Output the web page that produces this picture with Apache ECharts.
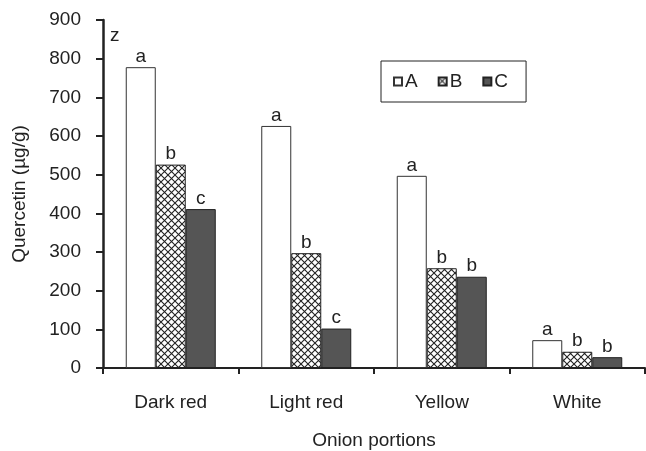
<!DOCTYPE html>
<html>
<head>
<meta charset="utf-8">
<script src="https://cdn.jsdelivr.net/npm/echarts@6/dist/echarts.min.js"></script>
<style>
  html, body { margin: 0; padding: 0; background: #fff; }
  #chart { width: 646px; height: 451px; }
</style>
</head>
<body>
<div id="chart"></div>
<script>
const categories = ['Dark red', 'Light red', 'Yellow', 'White']
const seriesNames = ['A', 'B', 'C']
const valuesA = [778, 626, 497, 72]
const valuesB = [526, 297, 258, 42]
const valuesC = [411, 102, 236, 28]
const lettersA = ['a', 'a', 'a', 'a']
const lettersB = ['b', 'b', 'b', 'b']
const lettersC = ['c', 'c', 'b', 'b']
const yTicks = [0, 100, 200, 300, 400, 500, 600, 700, 800, 900]

const FONT = 'Liberation Sans, Arial, sans-serif'

// cross hatch for series B
function makeHatch() {
  const c = document.createElement('canvas')
  c.width = 7
  c.height = 7
  const ctx = c.getContext('2d')
  ctx.fillStyle = '#fff'
  ctx.fillRect(0, 0, 7, 7)
  ctx.strokeStyle = '#222'
  ctx.lineWidth = 1.1
  ctx.beginPath()
  ctx.moveTo(0, 0); ctx.lineTo(7, 7)
  ctx.moveTo(7, 0); ctx.lineTo(0, 7)
  ctx.stroke()
  return c
}

const chart = echarts.init(document.getElementById('chart'))

function barSeries(name, values, letters, style) {
  return {
    name: name,
    type: 'bar',
    barWidth: 30,
    barGap: '0%',
    data: values,
    itemStyle: style,
    label: {
      show: true,
      position: 'top',
      distance: 1,
      color: '#222',
      fontSize: 19,
      fontFamily: FONT,
      formatter: (p) => letters[p.dataIndex]
    }
  }
}

chart.setOption({
  animation: false,
  textStyle: { fontFamily: FONT },
  grid: { left: 103, right: 1, top: 20, bottom: 83, outerBoundsMode: 'none' },
  legend: {
    left: 381,
    top: 61,
    data: seriesNames,
    icon: 'rect',
    itemWidth: 8,
    itemHeight: 8,
    itemGap: 20,
    borderColor: '#222',
    borderWidth: 1,
    padding: [11, 18, 11, 12],
    textStyle: { fontSize: 19, color: '#222', padding: [0, 0, 0, -2] }
  },
  xAxis: {
    type: 'category',
    data: categories,
    name: 'Onion portions',
    nameLocation: 'middle',
    nameGap: 63,
    nameTextStyle: { fontSize: 19, color: '#222' },
    axisLine: { lineStyle: { color: '#222', width: 2 } },
    axisTick: { show: true, length: 6, lineStyle: { color: '#222', width: 2 } },
    axisLabel: { fontSize: 19, color: '#222', margin: 25 }
  },
  yAxis: {
    type: 'value',
    min: yTicks[0],
    max: yTicks[yTicks.length - 1],
    interval: 100,
    name: 'Quercetin (µg/g)',
    nameLocation: 'middle',
    nameGap: 74,
    nameTextStyle: { fontSize: 19, color: '#222' },
    splitLine: { show: false },
    axisLine: { show: true, lineStyle: { color: '#222', width: 2.5 } },
    axisTick: { show: true, inside: false, length: 7, lineStyle: { color: '#222', width: 2 } },
    axisLabel: { fontSize: 19, color: '#222', margin: 22 }
  },
  graphic: [{
    type: 'text',
    left: 110,
    top: 26,
    style: { text: 'z', fontSize: 19, fill: '#222', fontFamily: FONT }
  }],
  series: [
    barSeries('A', valuesA, lettersA, { color: '#fff', borderColor: '#333', borderWidth: 1 }),
    barSeries('B', valuesB, lettersB, {
      color: { image: makeHatch(), repeat: 'repeat' },
      borderColor: '#222',
      borderWidth: 1
    }),
    barSeries('C', valuesC, lettersC, { color: '#555', borderColor: '#222', borderWidth: 1 })
  ]
})
</script>
</body>
</html>
